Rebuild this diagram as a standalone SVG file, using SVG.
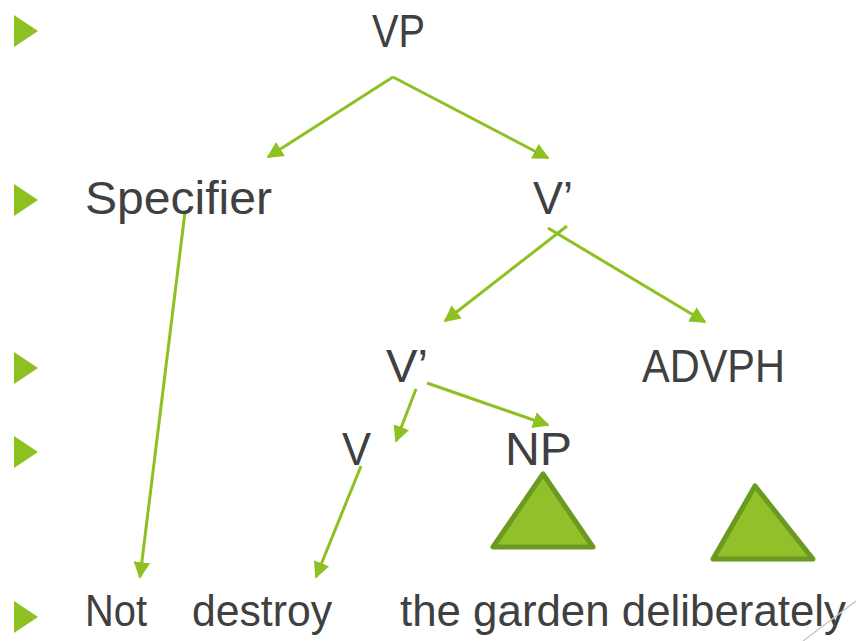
<svg xmlns="http://www.w3.org/2000/svg" width="856" height="641" viewBox="0 0 856 641">
<defs>
<marker id="ah" viewBox="0 0 10 10" refX="9" refY="5" markerWidth="5.5" markerHeight="5.5" markerUnits="strokeWidth" orient="auto">
<path d="M0,0 L10,5 L0,10 z" fill="#8dc021"/>
</marker>
</defs>
<style>
.t{font-family:"Liberation Sans",Arial,sans-serif;font-size:46px;fill:#404040}
.b{font-size:44px}
.bul{fill:#8dc021}
.e{stroke:#8dc021;stroke-width:3;fill:none;marker-end:url(#ah)}
.tri{fill:#92c02a;stroke:#6a9a1f;stroke-width:5;stroke-linejoin:round}
</style>
<rect width="856" height="641" fill="#ffffff"/>
<g id="bullets">
<polygon class="bul" points="14,15 38,31 14,47"/>
<polygon class="bul" points="14,184 38,200 14,216"/>
<polygon class="bul" points="14,352 38,368 14,384"/>
<polygon class="bul" points="14,436 38,452 14,468"/>
<polygon class="bul" points="14,601 38,617 14,633"/>
</g>
<g id="connectors">
<line class="e" x1="393" y1="77" x2="268" y2="157"/>
<line class="e" x1="393" y1="77" x2="548" y2="158"/>
<line class="e" x1="567" y1="226" x2="445" y2="321"/>
<line class="e" x1="548" y1="228" x2="705" y2="322"/>
<line class="e" x1="416" y1="389" x2="396" y2="441"/>
<line class="e" x1="427" y1="383" x2="548" y2="425"/>
<line class="e" x1="185" y1="212" x2="140" y2="577"/>
<line class="e" x1="361" y1="466" x2="316" y2="577"/>
</g>
<g id="VP"><text class="t" x="372" y="47" textLength="53" lengthAdjust="spacingAndGlyphs">VP</text></g>
<g id="Specifier"><text class="t" x="85" y="214" textLength="187" lengthAdjust="spacingAndGlyphs">Specifier</text></g>
<g id="Vbar1"><text class="t" x="533" y="214" textLength="40" lengthAdjust="spacingAndGlyphs">V’</text></g>
<g id="Vbar2"><text class="t" x="386" y="382" textLength="42" lengthAdjust="spacingAndGlyphs">V’</text></g>
<g id="ADVPH"><text class="t" x="642" y="382" textLength="143" lengthAdjust="spacingAndGlyphs">ADVPH</text></g>
<g id="V"><text class="t" x="342" y="465" textLength="29" lengthAdjust="spacingAndGlyphs">V</text></g>
<g id="NP"><text class="t" x="505" y="465" textLength="67" lengthAdjust="spacingAndGlyphs">NP</text></g>
<g id="NP-triangle"><polygon class="tri" points="543,474 493,547 593,547"/></g>
<g id="ADVPH-triangle"><polygon class="tri" points="755,486 713,559 813,559"/></g>
<g id="Not"><text class="t b" x="85" y="626" textLength="62" lengthAdjust="spacingAndGlyphs">Not</text></g>
<g id="destroy"><text class="t b" x="192" y="626" textLength="140" lengthAdjust="spacingAndGlyphs">destroy</text></g>
<g id="the-garden-deliberately"><text class="t b" x="400" y="626" textLength="446" lengthAdjust="spacingAndGlyphs">the garden deliberately</text></g>
<line x1="803" y1="641" x2="856" y2="601" stroke="#c8c8c8" stroke-width="1.5"/>
</svg>
